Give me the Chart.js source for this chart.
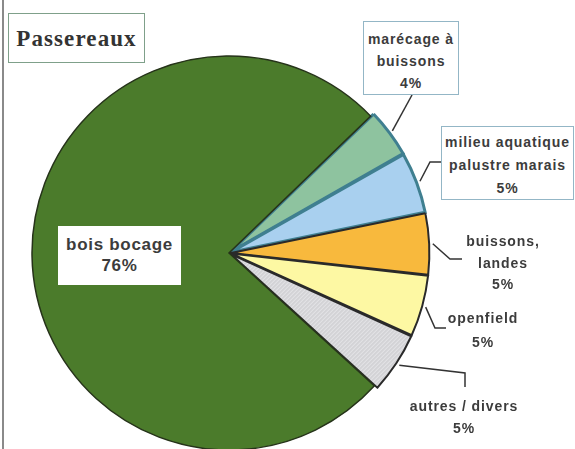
<!DOCTYPE html>
<html>
<head>
<meta charset="utf-8">
<script src="https://cdn.jsdelivr.net/npm/chart.js@4.4.1/dist/chart.umd.min.js"></script>
<style>
  html, body { margin:0; padding:0; background:#fff; }
  #wrap { position:relative; width:575px; height:449px; overflow:hidden; background:#fff; }
  #c { position:absolute; left:0; top:0; }
  #frame { position:absolute; left:2px; top:0; width:2px; height:449px; background:#8a8a8a; }
  .box { position:absolute; box-sizing:border-box; background:#fff; text-align:center; }
  .lbl { position:absolute; font-family:"Liberation Sans", Arial, sans-serif; font-weight:bold; color:#3c3c3c; text-align:center; white-space:nowrap; }
  .t13 { font-size:14px; letter-spacing:0.9px; }
  #title { left:8px; top:13px; width:137px; height:50px; border:1.5px solid #7fa08a;
           font-family:"Liberation Serif", "Times New Roman", serif; font-weight:bold; font-size:23px; letter-spacing:1.1px; color:#333; line-height:50px; }
</style>
</head>
<body>
<div id="wrap">
  <canvas id="c" width="575" height="449"></canvas>
  <div id="frame"></div>
  <div class="box" id="title">Passereaux</div>
  <div class="box lbl t13" style="left:363px;top:21px;width:96px;height:74px;border:1.5px solid #93b6c6;line-height:22px;padding-top:6px;">marécage à<br>buissons<br>4%</div>
  <div class="box lbl t13" style="left:441px;top:126px;width:133px;height:74px;border:1.5px solid #93b6c6;line-height:23px;padding-top:4px;">milieu aquatique<br>palustre marais<br>5%</div>
  <div class="lbl t13" style="left:443px;top:231px;width:120px;line-height:21.5px;">buissons,<br>landes<br>5%</div>
  <div class="lbl t13" style="left:423px;top:306px;width:120px;line-height:24px;">openfield<br>5%</div>
  <div class="lbl t13" style="left:394px;top:395px;width:140px;line-height:22px;">autres / divers<br>5%</div>
  <div class="box lbl" style="left:58px;top:226px;width:123px;height:59px;font-size:17px;letter-spacing:0.7px;line-height:21px;padding-top:8px;">bois bocage<br>76%</div>
</div>
<script>
// ---- data ----
const categories = ["marécage à buissons", "milieu aquatique palustre marais", "buissons, landes", "openfield", "autres / divers", "bois bocage"];
const percentages = [4, 5, 5, 5, 5, 76];

// ---- styles ----
function hatch() {
  const p = document.createElement('canvas');
  p.width = 4; p.height = 4;
  const g = p.getContext('2d');
  g.fillStyle = '#d3d3d6'; g.fillRect(0,0,4,4);
  g.strokeStyle = '#e9e9ec'; g.lineWidth = 1;
  g.beginPath(); g.moveTo(0,4); g.lineTo(4,0); g.stroke();
  return g.createPattern(p, 'repeat');
}
const fills = ['#8ec39f', '#a9d0ef', '#f8b93d', '#fdf8a3', hatch(), '#4b7b2b'];
const borders = ['#3f7f90', '#3f7f90', '#2a2a2a', '#2a2a2a', '#2a2a2a', '#26331a'];
const borderWidths = [3, 3, 2, 2, 2, 1.5];
const offsets = [8, 8, 8, 8, 8, 0];
// leader-line elbows / ends (label anchors)
const leaders = [
  [[412, 95]],
  [[430, 162], [441, 162]],
  [[450, 259], [462, 259]],
  [[435, 328], [446, 328]],
  [[465, 373], [465, 387]],
  null
];

const leaderPlugin = {
  id: 'leaders',
  afterDatasetsDraw(chart) {
    const ctx = chart.ctx;
    const meta = chart.getDatasetMeta(0);
    ctx.save();
    ctx.strokeStyle = '#333';
    ctx.lineWidth = 1.5;
    meta.data.forEach((arc, i) => {
      if (!leaders[i]) return;
      const p = arc.getProps(['x', 'y', 'startAngle', 'endAngle', 'outerRadius'], true);
      const mid = (p.startAngle + p.endAngle) / 2;
      const r = p.outerRadius + offsets[i] - 1;
      ctx.beginPath();
      ctx.moveTo(p.x + Math.cos(mid) * r, p.y + Math.sin(mid) * r);
      leaders[i].forEach(pt => ctx.lineTo(pt[0], pt[1]));
      ctx.stroke();
    });
    ctx.restore();
  }
};

new Chart(document.getElementById('c'), {
  type: 'pie',
  data: {
    labels: categories,
    datasets: [{
      data: percentages,
      backgroundColor: fills,
      borderColor: borders,
      borderWidth: borderWidths,
      offset: offsets,
      borderJoinStyle: 'miter',
      clip: false
    }]
  },
  options: {
    responsive: false,
    animation: false,
    rotation: 46,
    radius: 197,
    layout: { padding: { left: 0, right: 117, top: 57, bottom: 0 } },
    plugins: { legend: { display: false }, tooltip: { enabled: false } }
  },
  plugins: [leaderPlugin]
});
</script>
</body>
</html>
